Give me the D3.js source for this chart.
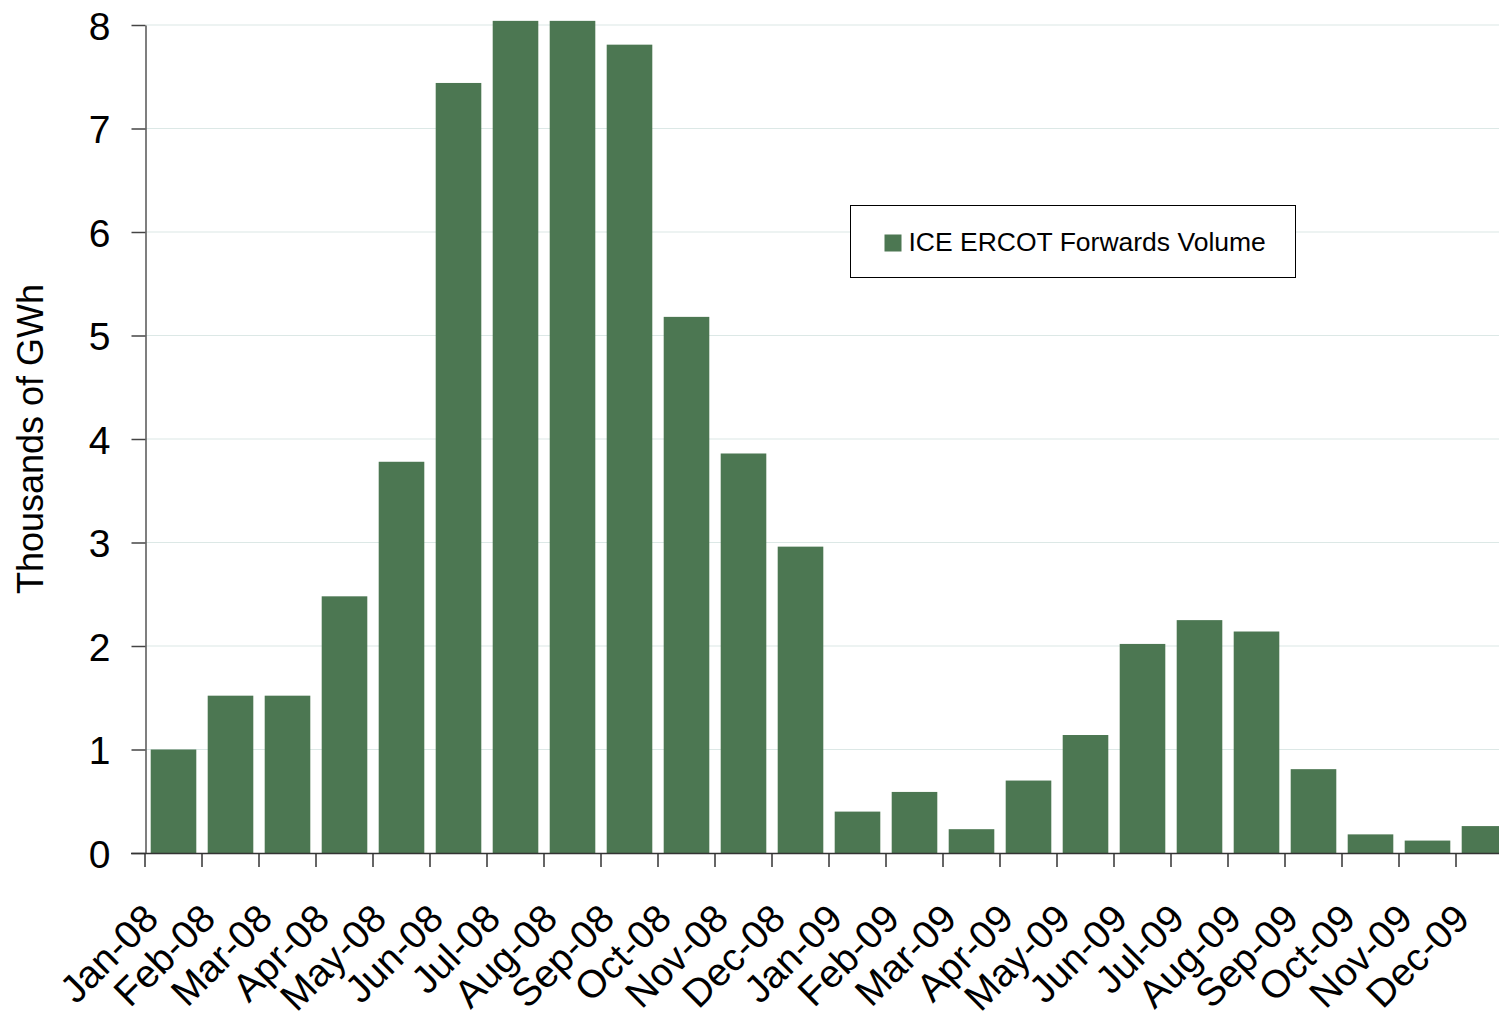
<!DOCTYPE html>
<html>
<head>
<meta charset="utf-8">
<script src="https://cdn.jsdelivr.net/npm/d3@7/dist/d3.min.js"></script>
<style>
  body { margin: 0; background: #fff; }
  svg { display: block; font-family: "Liberation Sans", Arial, sans-serif; }
</style>
</head>
<body>
<svg class="viz"></svg>
<script>
var width = 1499,
  height = 1016;

// data, thousands of GWh
var months = ["Jan-08", "Feb-08", "Mar-08", "Apr-08", "May-08", "Jun-08", "Jul-08", "Aug-08",
  "Sep-08", "Oct-08", "Nov-08", "Dec-08", "Jan-09", "Feb-09", "Mar-09", "Apr-09", "May-09",
  "Jun-09", "Jul-09", "Aug-09", "Sep-09", "Oct-09", "Nov-09", "Dec-09"];
var volumes = [1.00, 1.52, 1.52, 2.48, 3.78, 7.44, 8.04, 8.04, 7.81, 5.18, 3.86, 2.96,
  0.40, 0.59, 0.23, 0.70, 1.14, 2.02, 2.25, 2.14, 0.81, 0.18, 0.12, 0.26];
var y_ticks = [0, 1, 2, 3, 4, 5, 6, 7, 8];
var series_name = "ICE ERCOT Forwards Volume";

var bar_color = "#4c7752";

var viz = d3.select(".viz")
  .attr("width", width)
  .attr("height", height);

// plot runs a little past the right edge of the picture
var x = d3.scaleBand()
  .domain(months)
  .range([145, 1513])
  .paddingInner(0.2)
  .paddingOuter(0.1);

var y = d3.scaleLinear()
  .domain([0, 8])
  .range([853, 25]);

// gridlines
viz.append("g")
  .selectAll("line")
  .data(y_ticks.filter(d => d > 0))
  .enter()
  .append("line")
  .attr("x1", 146)
  .attr("x2", width)
  .attr("y1", d => y(d))
  .attr("y2", d => y(d))
  .attr("stroke", "#dce8e6")
  .attr("stroke-width", 1.2);

// bars
viz.append("g")
  .selectAll("rect")
  .data(volumes)
  .enter()
  .append("rect")
  .attr("x", (d, i) => x(months[i]))
  .attr("width", x.bandwidth())
  .attr("y", d => y(d))
  .attr("height", d => y(0) - y(d))
  .attr("fill", bar_color);

// y axis
var y_axis = viz.append("g")
  .attr("transform", "translate(145.5,0)")
  .call(d3.axisLeft(y).tickValues(y_ticks).tickSize(14).tickSizeOuter(0).tickFormat(d3.format("d")));
y_axis.select(".domain").attr("stroke", "#555").attr("stroke-width", 1.5);
y_axis.selectAll(".tick line").attr("stroke", "#444").attr("stroke-width", 1.5);
y_axis.selectAll(".tick text")
  .attr("x", -35)
  .attr("dy", "0.36em")
  .attr("font-size", 39)
  .attr("font-family", "Liberation Sans, Arial, sans-serif")
  .attr("fill", "#000");

// x axis line and ticks at category boundaries
var step = x.step();
var boundaries = months.map((m, i) => 145 + i * step);
boundaries.push(145 + months.length * step);

viz.append("line")
  .attr("x1", 131)
  .attr("x2", width)
  .attr("y1", y(0) + 0.5)
  .attr("y2", y(0) + 0.5)
  .attr("stroke", "#333")
  .attr("stroke-width", 1.5);

viz.append("g")
  .selectAll("line")
  .data(boundaries)
  .enter()
  .append("line")
  .attr("x1", d => d)
  .attr("x2", d => d)
  .attr("y1", y(0))
  .attr("y2", y(0) + 14)
  .attr("stroke", "#333")
  .attr("stroke-width", 1.5);

// rotated month labels
viz.append("g")
  .selectAll("text")
  .data(months)
  .enter()
  .append("text")
  .attr("transform", d => "translate(" + (x(d) + x.bandwidth() / 2 - 13) + "," + 921 + ") rotate(-45)")
  .attr("text-anchor", "end")
  .attr("font-size", 39)
  .attr("fill", "#000")
  .text(d => d);

// y axis title
viz.append("text")
  .attr("transform", "translate(43," + y(4) + ") rotate(-90)")
  .attr("text-anchor", "middle")
  .attr("font-size", 36)
  .attr("fill", "#000")
  .text("Thousands of GWh");

// legend
var legend = viz.append("g").attr("transform", "translate(850.5,205.5)");
legend.append("rect")
  .attr("width", 445)
  .attr("height", 72)
  .attr("fill", "#fff")
  .attr("stroke", "#000")
  .attr("stroke-width", 1);
legend.append("rect")
  .attr("x", 34)
  .attr("y", 29)
  .attr("width", 17)
  .attr("height", 17)
  .attr("fill", bar_color);
legend.append("text")
  .attr("x", 58)
  .attr("y", 45)
  .attr("font-size", 26.5)
  .attr("fill", "#000")
  .text(series_name);
</script>
</body>
</html>
